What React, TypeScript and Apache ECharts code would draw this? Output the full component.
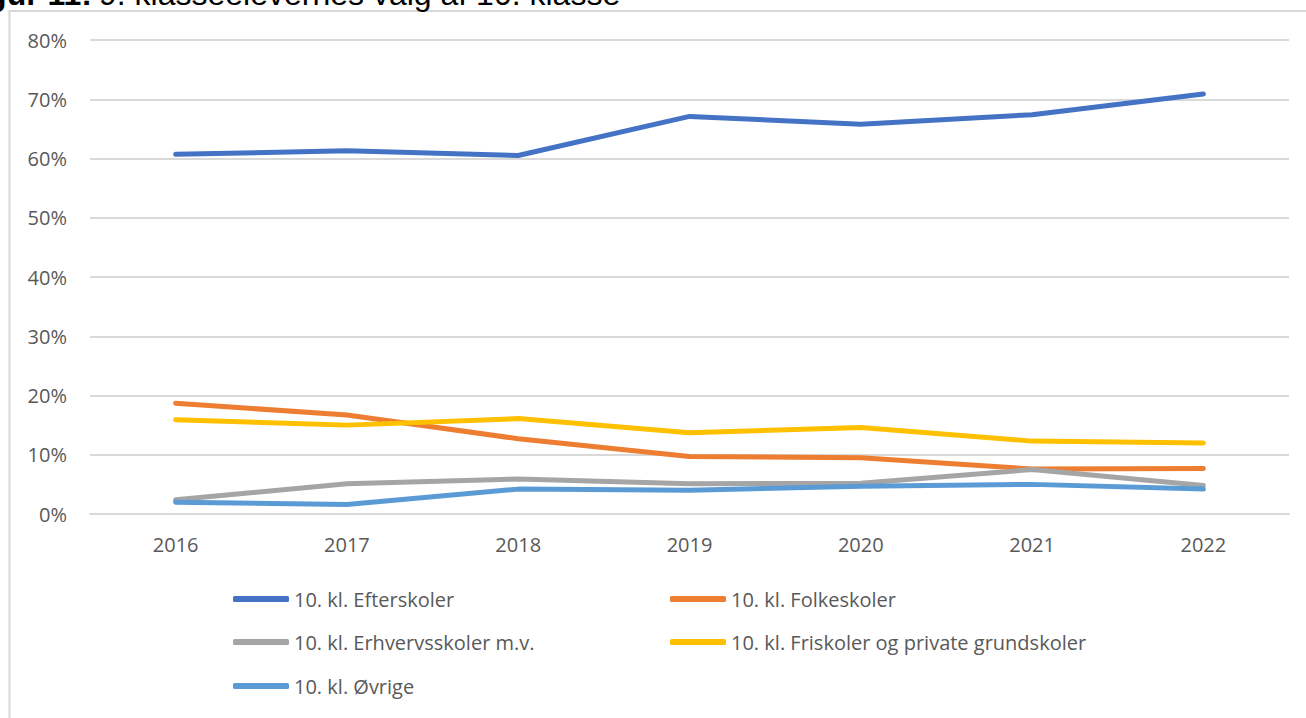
import React, { useEffect, useRef } from "react";
import * as echarts from "echarts";

const years = ["2016", "2017", "2018", "2019", "2020", "2021", "2022"];
const efterskoler = [60.7, 61.3, 60.5, 67.1, 65.8, 67.4, 70.9];
const folkeskoler = [18.7, 16.7, 12.7, 9.7, 9.5, 7.6, 7.7];
const erhvervsskoler = [2.4, 5.1, 5.9, 5.1, 5.2, 7.5, 4.8];
const friskoler = [15.9, 15.0, 16.1, 13.7, 14.6, 12.3, 12.0];
const oevrige = [2.0, 1.6, 4.2, 4.0, 4.7, 5.0, 4.2];

const seriesNames = [
  "10. kl. Efterskoler",
  "10. kl. Folkeskoler",
  "10. kl. Erhvervsskoler m.v.",
  "10. kl. Friskoler og private grundskoler",
  "10. kl. Øvrige",
];
const seriesData = [efterskoler, folkeskoler, erhvervsskoler, friskoler, oevrige];
const colors = ["#4472C4", "#ED7D31", "#A5A5A5", "#FFC000", "#5B9BD5"];
const legendPos = [
  { left: 228, y: 599 },
  { left: 665, y: 599 },
  { left: 228, y: 642 },
  { left: 665, y: 642 },
  { left: 228, y: 686 },
];

const FONT = "'Open Sans', 'DejaVu Sans', sans-serif";

export default function App() {
  const ref = useRef<HTMLDivElement>(null);
  useEffect(() => {
    if (!ref.current) return;
    const chart = echarts.init(ref.current, null, { renderer: "svg" });
    chart.setOption({
      animation: false,
      backgroundColor: "#ffffff",
      textStyle: { fontFamily: FONT },
      graphic: [
        {
          type: "rect",
          shape: { x: 9.5, y: 11, width: 1310, height: 720 },
          style: { fill: "none", stroke: "#d9d9d9", lineWidth: 2 },
          silent: true,
        },
        {
          type: "text",
          x: 92,
          y: -6,
          style: {
            text: "Figur 11:",
            fontFamily: "'Liberation Sans', Arial, sans-serif",
            fontWeight: "bold",
            fontSize: 32,
            fill: "#000000",
            align: "right",
            verticalAlign: "middle",
          },
        },
        {
          type: "text",
          x: 99,
          y: -6,
          style: {
            text: "9. klasseelevernes valg af 10. klasse",
            fontFamily: "'Liberation Sans', Arial, sans-serif",
            fontSize: 32,
            fill: "#000000",
            align: "left",
            verticalAlign: "middle",
          },
        },
      ],
      legend: seriesNames.map((name, i) => ({
        data: [name],
        left: legendPos[i].left,
        top: legendPos[i].y - 18,
        icon: "roundRect",
        itemWidth: 56,
        itemHeight: 6,
        itemGap: 0,
        selectedMode: false,
        textStyle: { fontFamily: FONT, fontSize: 20, color: "#595959", lineHeight: 26 },
      })),
      grid: { left: 90, right: 17, top: 40, bottom: 204, containLabel: false },
      xAxis: {
        type: "category",
        data: years,
        boundaryGap: true,
        axisLine: { show: true, lineStyle: { color: "#d9d9d9", width: 2 } },
        axisTick: { show: false },
        axisLabel: { color: "#595959", fontSize: 20, fontFamily: FONT, margin: 20 },
      },
      yAxis: {
        type: "value",
        min: 0,
        max: 80,
        interval: 10,
        axisLine: { show: false },
        axisTick: { show: false },
        axisLabel: { color: "#595959", fontSize: 20, fontFamily: FONT, margin: 23, formatter: "{value}%" },
        splitLine: { lineStyle: { color: "#d9d9d9", width: 2 } },
      },
      series: seriesNames.map((name, i) => ({
        name,
        type: "line",
        data: seriesData[i],
        symbol: "none",
        color: colors[i],
        lineStyle: { width: 5, color: colors[i], cap: "round", join: "round" },
      })),
    });
    return () => chart.dispose();
  }, []);
  return (
    <div
      ref={ref}
      style={{ position: "absolute", left: 0, top: 0, width: 1306, height: 718 }}
    />
  );
}
